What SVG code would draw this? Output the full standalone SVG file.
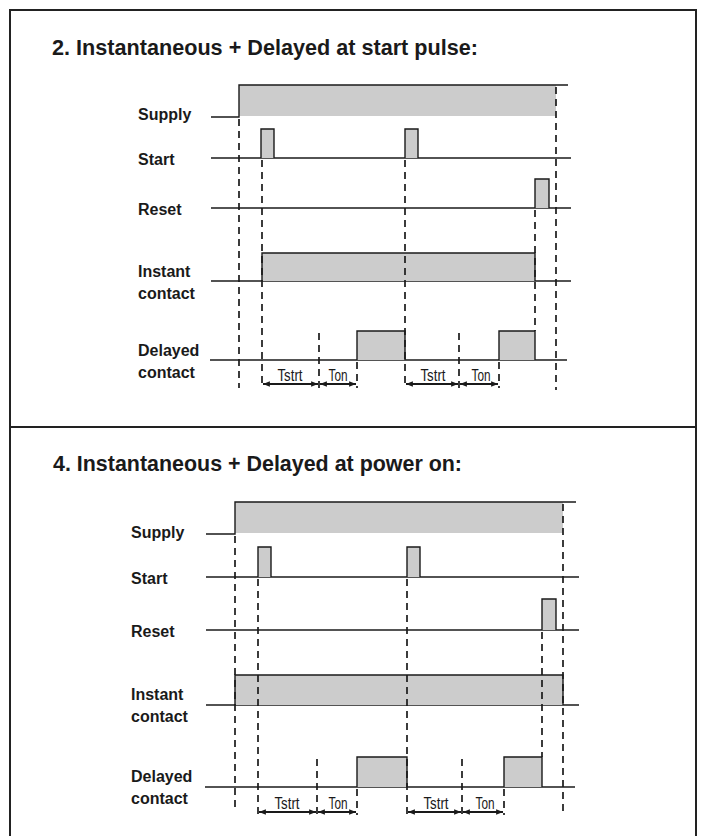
<svg xmlns="http://www.w3.org/2000/svg" width="703" height="836" viewBox="0 0 703 836">
<style>
.title{font-family:"Liberation Sans",Arial,sans-serif;font-weight:bold;font-size:22px;fill:#1a1a1a}
.lbl{font-family:"Liberation Sans",Arial,sans-serif;font-weight:bold;font-size:16px;fill:#1a1a1a}
.t{font-family:"Liberation Sans",Arial,sans-serif;font-size:17px;fill:#1a1a1a;text-anchor:middle}
.ln{stroke:#1a1a1a;stroke-width:1.4;fill:none}
.g{fill:#cccccc;stroke:none}
.pulse{fill:#cccccc;stroke:#1a1a1a;stroke-width:1.4}
.dash{stroke:#1a1a1a;stroke-width:1.7;stroke-dasharray:7,5;fill:none}
.arr{stroke:#1a1a1a;stroke-width:1.9;fill:none;marker-start:url(#ah);marker-end:url(#ah)}
.frame{stroke:#222;stroke-width:2;fill:none}
</style>
<defs>
<marker id="ah" viewBox="0 0 10 8" refX="10" refY="4" markerWidth="7" markerHeight="5.5" markerUnits="userSpaceOnUse" orient="auto-start-reverse">
<path d="M0,0 L10,4 L0,8 z" fill="#1a1a1a"/>
</marker>
</defs>
<g id="frame">
<path class="frame" d="M10,840 V10 H696 V840"/>
<line class="frame" x1="10" y1="427" x2="696" y2="427"/>
</g>
<g id="section1">
<text class="title" x="52" y="55" textLength="426" lengthAdjust="spacingAndGlyphs">2. Instantaneous + Delayed at start pulse:</text>
<g id="s1-supply">
<text class="lbl" x="138" y="120">Supply</text>
<rect class="g" x="239" y="85" width="317" height="31"/>
<path class="ln" d="M211,117 H239 V85 H568"/>
</g>
<g id="s1-start">
<text class="lbl" x="138" y="165">Start</text>
<line class="ln" x1="211" y1="158" x2="571" y2="158"/>
<path class="pulse" d="M261,158 V129 H274 V158"/>
<path class="pulse" d="M405,158 V129 H418 V158"/>
</g>
<g id="s1-reset">
<text class="lbl" x="138" y="215">Reset</text>
<line class="ln" x1="211" y1="208" x2="571" y2="208"/>
<path class="pulse" d="M535,208 V179 H549 V208"/>
</g>
<g id="s1-instant">
<text class="lbl" x="138" y="277">Instant</text>
<text class="lbl" x="138" y="299">contact</text>
<line class="ln" x1="211" y1="281" x2="571" y2="281"/>
<path class="pulse" d="M262,281 V253 H535 V281"/>
</g>
<g id="s1-delayed">
<text class="lbl" x="138" y="356">Delayed</text>
<text class="lbl" x="138" y="378">contact</text>
<line class="ln" x1="210" y1="360" x2="567" y2="360"/>
<path class="pulse" d="M357,360 V331 H405 V360"/>
<path class="pulse" d="M499,360 V331 H535 V360"/>
</g>
<g id="s1-connectors">
<line class="dash" x1="239" y1="119" x2="239" y2="388"/>
<line class="dash" x1="262" y1="160" x2="262" y2="388"/>
<line class="dash" x1="405" y1="160" x2="405" y2="388"/>
<line class="dash" x1="535" y1="210" x2="535" y2="331"/>
<line class="dash" x1="556" y1="87" x2="556" y2="390"/>
<line class="dash" x1="319" y1="333" x2="319" y2="388"/>
<line class="dash" x1="459" y1="333" x2="459" y2="388"/>
<line class="dash" x1="357" y1="362" x2="357" y2="388"/>
<line class="dash" x1="499" y1="362" x2="499" y2="388"/>
<line class="arr" x1="263" y1="384" x2="318" y2="384"/>
<line class="arr" x1="320" y1="384" x2="356" y2="384"/>
<line class="arr" x1="406" y1="384" x2="458" y2="384"/>
<line class="arr" x1="460" y1="384" x2="498" y2="384"/>
<text class="t" x="290" y="381" textLength="25" lengthAdjust="spacingAndGlyphs">Tstrt</text>
<text class="t" x="338" y="381" textLength="19" lengthAdjust="spacingAndGlyphs">Ton</text>
<text class="t" x="433" y="381" textLength="25" lengthAdjust="spacingAndGlyphs">Tstrt</text>
<text class="t" x="481" y="381" textLength="19" lengthAdjust="spacingAndGlyphs">Ton</text>
</g>
</g>
<g id="section2">
<text class="title" x="53" y="471" textLength="409" lengthAdjust="spacingAndGlyphs">4. Instantaneous + Delayed at power on:</text>
<g id="s2-supply">
<text class="lbl" x="131" y="538">Supply</text>
<rect class="g" x="235" y="502" width="328" height="31"/>
<path class="ln" d="M206,534 H235 V502 H576"/>
</g>
<g id="s2-start">
<text class="lbl" x="131" y="584">Start</text>
<line class="ln" x1="206" y1="577" x2="579" y2="577"/>
<path class="pulse" d="M258,577 V547 H271 V577"/>
<path class="pulse" d="M407,577 V547 H420 V577"/>
</g>
<g id="s2-reset">
<text class="lbl" x="131" y="637">Reset</text>
<line class="ln" x1="206" y1="630" x2="579" y2="630"/>
<path class="pulse" d="M542,630 V599 H556 V630"/>
</g>
<g id="s2-instant">
<text class="lbl" x="131" y="700">Instant</text>
<text class="lbl" x="131" y="722">contact</text>
<line class="ln" x1="206" y1="705" x2="579" y2="705"/>
<path class="pulse" d="M235,705 V675 H563 V705"/>
</g>
<g id="s2-delayed">
<text class="lbl" x="131" y="782">Delayed</text>
<text class="lbl" x="131" y="804">contact</text>
<line class="ln" x1="205" y1="787" x2="575" y2="787"/>
<path class="pulse" d="M357,787 V757 H407 V787"/>
<path class="pulse" d="M504,787 V757 H542 V787"/>
</g>
<g id="s2-connectors">
<line class="dash" x1="235" y1="536" x2="235" y2="808"/>
<line class="dash" x1="258" y1="579" x2="258" y2="815"/>
<line class="dash" x1="407" y1="579" x2="407" y2="815"/>
<line class="dash" x1="542" y1="632" x2="542" y2="757"/>
<line class="dash" x1="563" y1="504" x2="563" y2="815"/>
<line class="dash" x1="317" y1="759" x2="317" y2="815"/>
<line class="dash" x1="462" y1="759" x2="462" y2="815"/>
<line class="dash" x1="357" y1="789" x2="357" y2="815"/>
<line class="dash" x1="504" y1="789" x2="504" y2="815"/>
<line class="arr" x1="259" y1="812" x2="316" y2="812"/>
<line class="arr" x1="318" y1="812" x2="356" y2="812"/>
<line class="arr" x1="408" y1="812" x2="461" y2="812"/>
<line class="arr" x1="463" y1="812" x2="503" y2="812"/>
<text class="t" x="287" y="809" textLength="25" lengthAdjust="spacingAndGlyphs">Tstrt</text>
<text class="t" x="338" y="809" textLength="19" lengthAdjust="spacingAndGlyphs">Ton</text>
<text class="t" x="436" y="809" textLength="25" lengthAdjust="spacingAndGlyphs">Tstrt</text>
<text class="t" x="485" y="809" textLength="19" lengthAdjust="spacingAndGlyphs">Ton</text>
</g>
</g>
</svg>
